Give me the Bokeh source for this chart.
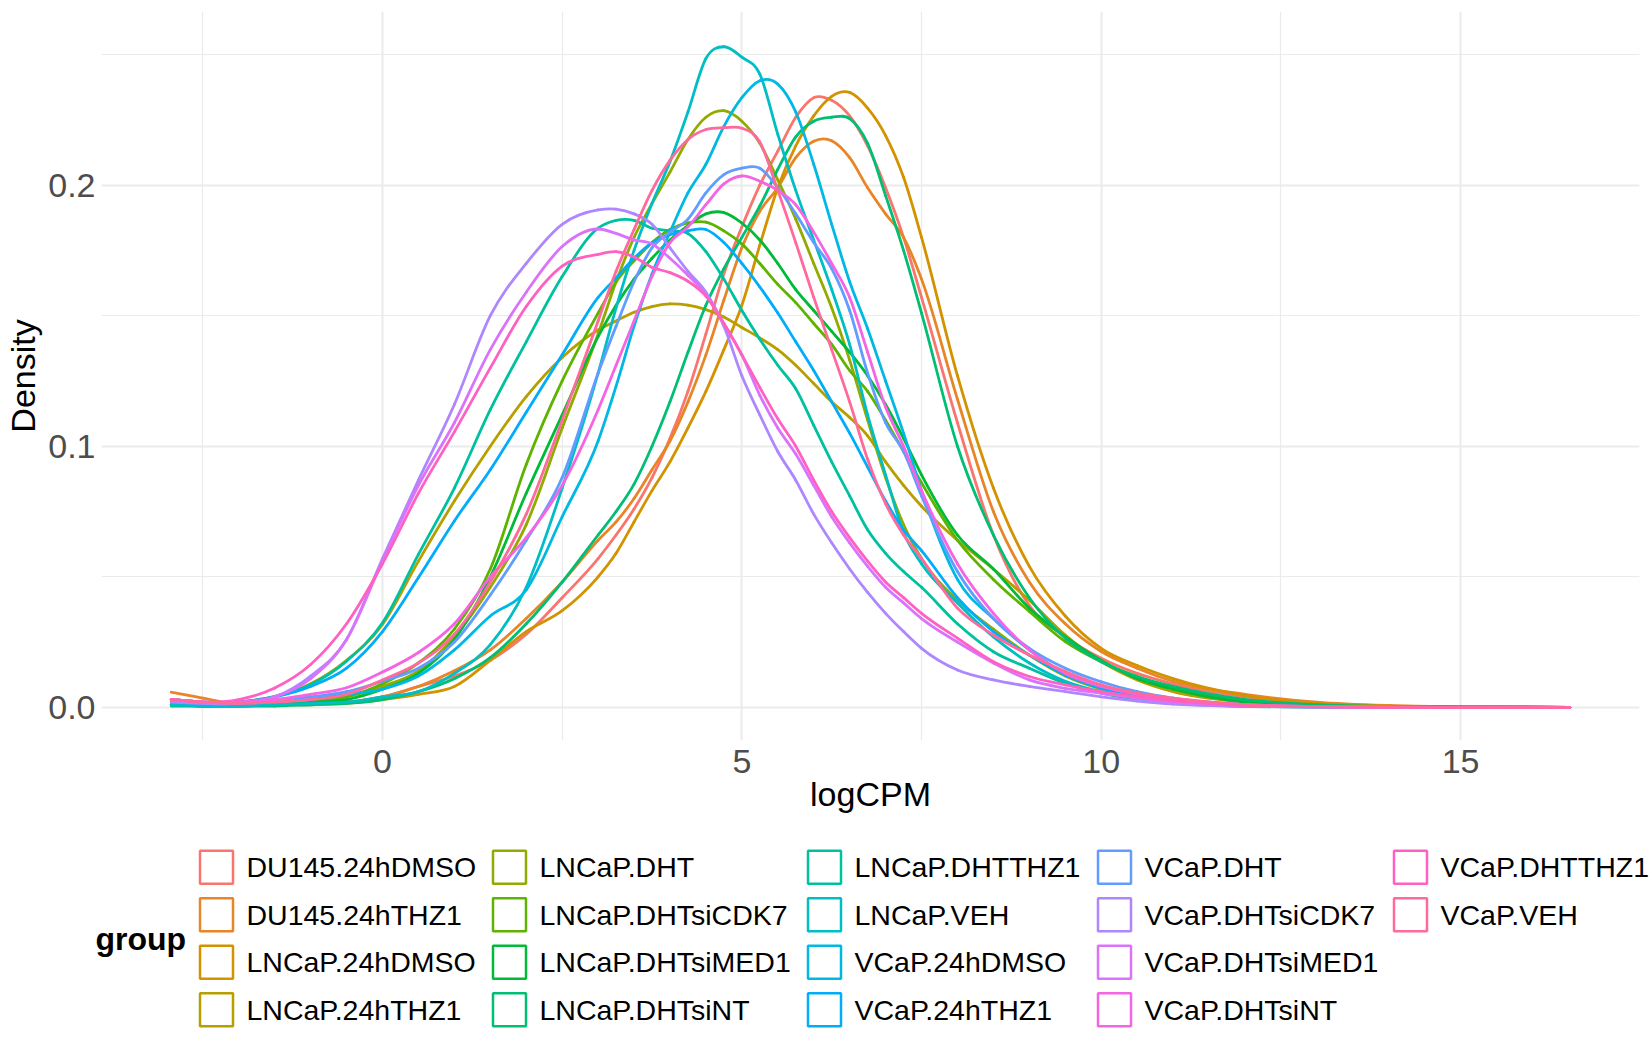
import math
from bokeh.plotting import figure
from bokeh.models import Range1d, FixedTicker, NumeralTickFormatter
from bokeh.core.properties import value
from bokeh.embed import file_html
from bokeh.resources import INLINE

# ---------------- data ----------------
LOGCPM = [-2.94, -2.5, -2, -1.5, -1, -0.5, 0, 0.5, 1, 1.5, 2, 2.5,
          3, 3.25, 3.5, 3.75, 4, 4.25, 4.5, 4.75, 5, 5.25, 5.5, 5.75, 6, 6.25, 6.5, 6.75, 7, 7.25, 7.5,
          8, 8.5, 9, 9.5, 10, 10.5, 11, 12, 13, 14, 15, 16.52]

GROUPS = ["DU145.24hDMSO", "DU145.24hTHZ1", "LNCaP.24hDMSO", "LNCaP.24hTHZ1",
          "LNCaP.DHT", "LNCaP.DHTsiCDK7", "LNCaP.DHTsiMED1", "LNCaP.DHTsiNT",
          "LNCaP.DHTTHZ1", "LNCaP.VEH", "VCaP.24hDMSO", "VCaP.24hTHZ1",
          "VCaP.DHT", "VCaP.DHTsiCDK7", "VCaP.DHTsiMED1", "VCaP.DHTsiNT",
          "VCaP.DHTTHZ1", "VCaP.VEH"]

DU145_24hDMSO = [0.003, 0.002, 0.001, 0.001, 0.0015, 0.002, 0.004, 0.008, 0.012, 0.018, 0.028, 0.042,
                 0.057, 0.066, 0.076, 0.088, 0.103, 0.121, 0.143, 0.166, 0.184, 0.200, 0.213, 0.226, 0.2335, 0.2325, 0.2265, 0.215, 0.199, 0.180, 0.157,
                 0.109, 0.066, 0.039, 0.027, 0.0188, 0.013, 0.009, 0.004, 0.0015, 0.0005, 0.0002, 0.0]
DU145_24hTHZ1 = [0.0058, 0.0035, 0.0012, 0.001, 0.0015, 0.002, 0.004, 0.008, 0.014, 0.022, 0.034, 0.048,
                 0.064, 0.071, 0.080, 0.091, 0.102, 0.117, 0.135, 0.156, 0.176, 0.190, 0.199, 0.2105, 0.2168, 0.217, 0.2105, 0.199, 0.189, 0.180, 0.164,
                 0.118, 0.075, 0.048, 0.032, 0.0214, 0.015, 0.010, 0.005, 0.002, 0.0007, 0.0002, 0.0]
LNCaP_24hDMSO = [0.003, 0.002, 0.001, 0.001, 0.001, 0.0015, 0.003, 0.005, 0.008, 0.018, 0.029, 0.037,
                 0.050, 0.059, 0.071, 0.083, 0.094, 0.107, 0.121, 0.137, 0.154, 0.177, 0.199, 0.215, 0.2265, 0.234, 0.2355, 0.2295, 0.219, 0.203, 0.180,
                 0.127, 0.084, 0.054, 0.035, 0.0226, 0.016, 0.011, 0.0045, 0.0015, 0.0005, 0.0002, 0.0]
LNCaP_24hTHZ1 = [0.002, 0.001, 0.002, 0.004, 0.009, 0.018, 0.0318, 0.056, 0.079, 0.100, 0.119, 0.134,
                 0.1445, 0.148, 0.1513, 0.1535, 0.1545, 0.154, 0.1523, 0.1495, 0.1455, 0.1415, 0.137, 0.131, 0.124, 0.117, 0.111, 0.104, 0.094, 0.085, 0.077,
                 0.064, 0.053, 0.041, 0.0277, 0.0175, 0.0105, 0.006, 0.002, 0.0006, 0.0002, 0.0001, 0.0]
LNCaP_DHT = [0.001, 0.0005, 0.0005, 0.001, 0.002, 0.004, 0.008, 0.014, 0.027, 0.046, 0.070, 0.107,
             0.143, 0.163, 0.180, 0.193, 0.205, 0.2175, 0.226, 0.2285, 0.2245, 0.216, 0.202, 0.187, 0.170, 0.153, 0.133, 0.110, 0.088, 0.070, 0.057,
             0.041, 0.030, 0.020, 0.012, 0.007, 0.004, 0.0025, 0.0008, 0.0003, 0.0001, 0.0, 0.0]
LNCaP_DHTsiCDK7 = [0.001, 0.0005, 0.001, 0.001, 0.002, 0.004, 0.009, 0.017, 0.030, 0.053, 0.093, 0.125,
                   0.151, 0.163, 0.171, 0.178, 0.183, 0.1855, 0.1858, 0.1825, 0.1775, 0.170, 0.162, 0.155, 0.147, 0.139, 0.129, 0.121, 0.110, 0.098, 0.086,
                   0.064, 0.049, 0.0367, 0.0252, 0.0175, 0.0118, 0.0073, 0.0025, 0.0008, 0.0002, 0.0001, 0.0]
LNCaP_DHTsiMED1 = [0.001, 0.0005, 0.0005, 0.001, 0.002, 0.003, 0.007, 0.013, 0.026, 0.050, 0.082, 0.112,
                   0.142, 0.154, 0.164, 0.172, 0.179, 0.1845, 0.189, 0.1895, 0.1855, 0.179, 0.170, 0.160, 0.152, 0.144, 0.136, 0.127, 0.116, 0.103, 0.089,
                   0.066, 0.053, 0.038, 0.027, 0.018, 0.011, 0.007, 0.002, 0.0006, 0.0002, 0.0001, 0.0]
LNCaP_DHTsiNT = [0.0005, 0.0005, 0.0005, 0.0005, 0.001, 0.0015, 0.003, 0.006, 0.011, 0.019, 0.032, 0.048,
                 0.066, 0.075, 0.0855, 0.100, 0.117, 0.136, 0.154, 0.168, 0.180, 0.192, 0.206, 0.2185, 0.2245, 0.226, 0.2255, 0.216, 0.196, 0.175, 0.151,
                 0.100, 0.066, 0.042, 0.0265, 0.0175, 0.0118, 0.008, 0.003, 0.001, 0.0003, 0.0001, 0.0]
LNCaP_DHTTHZ1 = [0.001, 0.001, 0.002, 0.0042, 0.0087, 0.0177, 0.0324, 0.0586, 0.084, 0.114, 0.140, 0.165,
                 0.1835, 0.1865, 0.1865, 0.1835, 0.1825, 0.1815, 0.1745, 0.164, 0.152, 0.141, 0.131, 0.122, 0.108, 0.094, 0.081, 0.068, 0.059, 0.052, 0.046,
                 0.032, 0.0213, 0.015, 0.0092, 0.0054, 0.003, 0.0015, 0.0004, 0.0001, 0.0, 0.0, 0.0]
LNCaP_VEH = [0.001, 0.0005, 0.0005, 0.001, 0.0015, 0.002, 0.004, 0.006, 0.013, 0.024, 0.046, 0.084,
             0.128, 0.153, 0.175, 0.193, 0.209, 0.228, 0.2485, 0.2530, 0.249, 0.2425, 0.2195, 0.198, 0.179, 0.160, 0.139, 0.112, 0.089, 0.067, 0.055,
             0.040, 0.027, 0.017, 0.010, 0.006, 0.0035, 0.002, 0.0006, 0.0002, 0.0, 0.0, 0.0]
VCaP_24hDMSO = [0.002, 0.001, 0.001, 0.002, 0.003, 0.005, 0.007, 0.012, 0.022, 0.035, 0.045, 0.073,
                0.102, 0.123, 0.146, 0.166, 0.182, 0.197, 0.208, 0.2225, 0.2335, 0.240, 0.2387, 0.228, 0.208, 0.185, 0.163, 0.145, 0.125, 0.105, 0.083,
                0.049, 0.034, 0.022, 0.013, 0.008, 0.005, 0.003, 0.001, 0.0003, 0.0001, 0.0, 0.0]
VCaP_24hTHZ1 = [0.003, 0.002, 0.002, 0.004, 0.008, 0.015, 0.029, 0.0497, 0.0714, 0.091, 0.113, 0.135,
                0.157, 0.1645, 0.172, 0.178, 0.181, 0.1825, 0.183, 0.178, 0.170, 0.161, 0.151, 0.140, 0.129, 0.117, 0.105, 0.092, 0.079, 0.068, 0.060,
                0.042, 0.029, 0.020, 0.0124, 0.0073, 0.004, 0.0022, 0.0006, 0.0002, 0.0, 0.0, 0.0]
VCaP_DHT = [0.003, 0.002, 0.002, 0.003, 0.004, 0.006, 0.010, 0.015, 0.025, 0.043, 0.064, 0.088,
            0.128, 0.146, 0.163, 0.176, 0.182, 0.187, 0.197, 0.204, 0.2065, 0.2065, 0.199, 0.189, 0.178, 0.168, 0.152, 0.128, 0.109, 0.098, 0.081,
            0.052, 0.034, 0.0226, 0.015, 0.0098, 0.006, 0.0035, 0.001, 0.0003, 0.0001, 0.0, 0.0]
VCaP_DHTsiCDK7 = [0.002, 0.0015, 0.0015, 0.004, 0.012, 0.026, 0.057, 0.087, 0.116, 0.150, 0.170, 0.185,
                  0.1905, 0.1908, 0.189, 0.185, 0.176, 0.167, 0.159, 0.146, 0.127, 0.112, 0.098, 0.087, 0.074, 0.063, 0.053, 0.044, 0.036, 0.029, 0.0226,
                  0.0143, 0.0105, 0.008, 0.006, 0.004, 0.0024, 0.0012, 0.0004, 0.0001, 0.0, 0.0, 0.0]
VCaP_DHTsiMED1 = [0.003, 0.002, 0.002, 0.004, 0.011, 0.026, 0.056, 0.085, 0.109, 0.137, 0.159, 0.1765,
                  0.1832, 0.1815, 0.179, 0.1775, 0.172, 0.1655, 0.158, 0.147, 0.135, 0.1195, 0.107, 0.097, 0.085, 0.073, 0.063, 0.054, 0.046, 0.040, 0.034,
                  0.025, 0.017, 0.0105, 0.0073, 0.0054, 0.0035, 0.002, 0.0006, 0.0002, 0.0, 0.0, 0.0]
VCaP_DHTsiNT = [0.003, 0.002, 0.002, 0.003, 0.005, 0.0075, 0.0135, 0.021, 0.032, 0.050, 0.065, 0.085,
                0.114, 0.131, 0.148, 0.165, 0.178, 0.184, 0.1925, 0.2005, 0.2035, 0.2015, 0.198, 0.1925, 0.182, 0.170, 0.157, 0.136, 0.115, 0.100, 0.083,
                0.055, 0.036, 0.022, 0.013, 0.008, 0.005, 0.003, 0.001, 0.0003, 0.0001, 0.0, 0.0]
VCaP_DHTTHZ1 = [0.003, 0.002, 0.003, 0.0074, 0.0164, 0.032, 0.055, 0.082, 0.1055, 0.130, 0.1535, 0.169,
                0.1735, 0.1745, 0.1725, 0.1685, 0.1665, 0.1632, 0.1575, 0.147, 0.135, 0.1225, 0.1105, 0.100, 0.087, 0.075, 0.065, 0.056, 0.048, 0.042, 0.036,
                0.0265, 0.0175, 0.0118, 0.0086, 0.006, 0.004, 0.0025, 0.0008, 0.0003, 0.0001, 0.0, 0.0]
VCaP_VEH = [0.003, 0.002, 0.0015, 0.002, 0.003, 0.005, 0.0105, 0.017, 0.028, 0.048, 0.074, 0.110,
            0.148, 0.167, 0.183, 0.198, 0.2095, 0.2175, 0.2213, 0.222, 0.2218, 0.2165, 0.198, 0.178, 0.157, 0.137, 0.117, 0.095, 0.078, 0.066, 0.057,
            0.038, 0.0277, 0.020, 0.0137, 0.0086, 0.0054, 0.0035, 0.001, 0.0003, 0.0001, 0.0, 0.0]

SERIES = [DU145_24hDMSO, DU145_24hTHZ1, LNCaP_24hDMSO, LNCaP_24hTHZ1,
          LNCaP_DHT, LNCaP_DHTsiCDK7, LNCaP_DHTsiMED1, LNCaP_DHTsiNT,
          LNCaP_DHTTHZ1, LNCaP_VEH, VCaP_24hDMSO, VCaP_24hTHZ1,
          VCaP_DHT, VCaP_DHTsiCDK7, VCaP_DHTsiMED1, VCaP_DHTsiNT,
          VCaP_DHTTHZ1, VCaP_VEH]

X_TICKS = [0, 5, 10, 15]
X_MINOR = [-2.5, 2.5, 7.5, 12.5, 17.5]
Y_TICKS = [0, 0.1, 0.2]
Y_MINOR = [0.05, 0.15, 0.25]


# ---------------- ggplot2 default hue palette (hcl, c=100, l=65) ----------------
def hcl_hex(h, c=100.0, l=65.0):
    Xn, Yn, Zn = 95.047, 100.000, 108.883
    hr = math.radians(h)
    U = c * math.cos(hr)
    V = c * math.sin(hr)
    Y = Yn * ((l + 16.0) / 116.0) ** 3 if l > 7.999592 else Yn * l / 903.3
    t = Xn + Yn + Zn
    x, y = Xn / t, Yn / t
    uN = 2.0 * x / (6.0 * y - x + 1.5)
    vN = 4.5 * y / (6.0 * y - x + 1.5)
    u = U / (13.0 * l) + uN
    v = V / (13.0 * l) + vN
    X = 9.0 * Y * u / (4.0 * v)
    Z = -X / 3.0 - 5.0 * Y + 3.0 * Y / v
    rgb = [(3.240479 * X - 1.537150 * Y - 0.498535 * Z) / Yn,
           (-0.969256 * X + 1.875992 * Y + 0.041556 * Z) / Yn,
           (0.055648 * X - 0.204043 * Y + 1.057311 * Z) / Yn]
    out = []
    for q in rgb:
        q = 1.055 * q ** (1 / 2.4) - 0.055 if q > 0.0031308 else 12.92 * q
        q = min(1.0, max(0.0, q))
        out.append(int(round(255 * q)))
    return "#%02X%02X%02X" % tuple(out)


n = len(GROUPS)
COLORS = [hcl_hex(15 + 360.0 * i / n) for i in range(n)]
FONT = "Liberation Sans"


# smooth (C1 cubic Hermite) rendering of each read curve through its points
def bezier_segments(xs, ys):
    k = len(xs)
    m = []
    for i in range(k):
        if i == 0:
            m.append((ys[1] - ys[0]) / (xs[1] - xs[0]))
        elif i == k - 1:
            m.append((ys[-1] - ys[-2]) / (xs[-1] - xs[-2]))
        else:
            h0, h1 = xs[i] - xs[i - 1], xs[i + 1] - xs[i]
            d0, d1 = (ys[i] - ys[i - 1]) / h0, (ys[i + 1] - ys[i]) / h1
            m.append((d0 * h1 + d1 * h0) / (h0 + h1))
    seg = dict(x0=[], y0=[], x1=[], y1=[], cx0=[], cy0=[], cx1=[], cy1=[])
    for i in range(k - 1):
        h = xs[i + 1] - xs[i]
        seg["x0"].append(xs[i]); seg["y0"].append(ys[i])
        seg["x1"].append(xs[i + 1]); seg["y1"].append(ys[i + 1])
        seg["cx0"].append(xs[i] + h / 3.0); seg["cy0"].append(ys[i] + m[i] * h / 3.0)
        seg["cx1"].append(xs[i + 1] - h / 3.0); seg["cy1"].append(ys[i + 1] - m[i + 1] * h / 3.0)
    return seg


# ---------------- main density panel ----------------
p = figure(width=1650, height=840,
           x_range=Range1d(-3.91, 17.49), y_range=Range1d(-0.0127, 0.2665),
           output_backend="svg", toolbar_location=None,
           min_border_left=101, min_border_right=11, min_border_top=11, min_border_bottom=100,
           x_axis_label="logCPM", y_axis_label="Density")
p.background_fill_color = "white"
p.border_fill_color = "white"
p.outline_line_color = None

for vals, col in zip(SERIES, COLORS):
    s = bezier_segments(LOGCPM, vals)
    p.bezier(x0=s["x0"], y0=s["y0"], x1=s["x1"], y1=s["y1"],
             cx0=s["cx0"], cy0=s["cy0"], cx1=s["cx1"], cy1=s["cy1"],
             line_color=col, line_width=2.8, line_cap="round")

p.xaxis.ticker = FixedTicker(ticks=X_TICKS, minor_ticks=X_MINOR)
p.yaxis.ticker = FixedTicker(ticks=Y_TICKS, minor_ticks=Y_MINOR)
p.yaxis.formatter = NumeralTickFormatter(format="0.0")

for g in (p.xgrid, p.ygrid):
    g.grid_line_color = "#EBEBEB"
    g.grid_line_width = 2
    g.minor_grid_line_color = "#EBEBEB"
    g.minor_grid_line_width = 1.2

for ax in (p.xaxis, p.yaxis):
    ax.axis_line_color = None
    ax.major_tick_line_color = None
    ax.minor_tick_line_color = None
    ax.major_tick_out = 0
    ax.major_tick_in = 0
    ax.minor_tick_out = 0
    ax.minor_tick_in = 0
    ax.major_label_text_font = FONT
    ax.major_label_text_font_size = "34px"
    ax.major_label_text_color = "#4D4D4D"
    ax.axis_label_text_font = FONT
    ax.axis_label_text_font_size = "34px"
    ax.axis_label_text_font_style = "normal"
    ax.axis_label_text_color = "black"

p.xaxis.major_label_standoff = 9
p.xaxis.axis_label_standoff = -1
p.yaxis.major_label_standoff = 6
p.yaxis.axis_label_standoff = 3

# ---------------- legend (ggplot-style, 4 rows x 5 columns) ----------------
LH = 205
TOP = 840  # page y where the legend block starts
leg = figure(width=1650, height=LH, x_range=Range1d(0, 1650), y_range=Range1d(LH, 0),
             output_backend="svg", toolbar_location=None, min_border=0)
leg.axis.visible = False
leg.grid.visible = False
leg.outline_line_color = None
leg.background_fill_color = "white"
leg.border_fill_color = "white"

col_key_x = [216, 509, 824, 1114, 1410]
row_y = [866.7 - TOP, 914.2 - TOP, 961.7 - TOP, 1009.2 - TOP]
kx, ky, tx, ty = [], [], [], []
for i in range(n):
    c, r = divmod(i, 4)
    kx.append(col_key_x[c])
    ky.append(row_y[r])
    tx.append(col_key_x[c] + 30)
    ty.append(row_y[r])

leg.rect(x=kx, y=ky, width=33, height=33, fill_color="white", line_color=COLORS, line_width=2.5)
leg.text(x=tx, y=ty, text=GROUPS, text_font=value(FONT), text_font_size=value("28.5px"),
         text_baseline="middle", text_align="left", text_color="black")
leg.text(x=[95], y=[938 - TOP], text=["group"], text_font=value(FONT), text_font_size=value("32px"),
         text_font_style="bold", text_baseline="middle", text_align="left", text_color="black")

open("out.html", "w").write(file_html([p, leg], INLINE))
